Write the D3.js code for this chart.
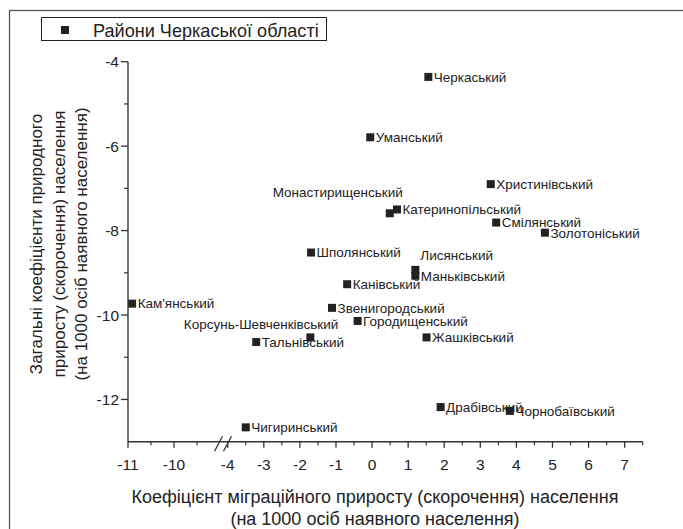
<!DOCTYPE html>
<html>
<head>
<meta charset="utf-8">
<script src="https://cdn.jsdelivr.net/npm/d3@7"></script>
<style>
  html, body { margin: 0; padding: 0; background: #fff; }
  svg { display: block; font-family: "Liberation Sans", Arial, sans-serif; }
</style>
</head>
<body>
<svg id="chart" width="683" height="529"></svg>
<script>
// ---- data ----
const districts = [
  "Черкаський", "Уманський", "Христинівський", "Монастирищенський",
  "Катеринопільський", "Смілянський", "Золотоніський", "Шполянський",
  "Лисянський", "Маньківський", "Канівський", "Кам'янський",
  "Звенигородський", "Городищенський", "Корсунь-Шевченківський",
  "Тальнівський", "Жашківський", "Драбівський", "Чорнобаївський", "Чигиринський"
];
const migration = [
  1.56, -0.05, 3.29, 0.49,
  0.69, 3.44, 4.79, -1.69,
  1.20, 1.20, -0.69, -10.91,
  -1.11, -0.40, -1.71,
  -3.21, 1.51, 1.90, 3.82, -3.50
];
const natural = [
  -4.36, -5.79, -6.90, -7.59,
  -7.50, -7.81, -8.05, -8.52,
  -8.93, -9.07, -9.27, -9.73,
  -9.83, -10.14, -10.53,
  -10.64, -10.53, -12.18, -12.27, -12.66
];
const xTickValues = [-11, -10, -4, -3, -2, -1, 0, 1, 2, 3, 4, 5, 6, 7];
const xMinorValues = [-10.5, -9.5, -3.5, -2.5, -1.5, -0.5, 0.5, 1.5, 2.5, 3.5, 4.5, 5.5, 6.5, 7.5];
const yTickValues = [-4, -6, -8, -10, -12];
const yMinorValues = [-5, -7, -9, -11];
const legendLabel = "Райони Черкаської області";
const xTitle = ["Коефіцієнт міграційного приросту (скорочення) населення", "(на 1000 осіб наявного населення)"];
const yTitle = ["Загальні коефіцієнти природного", "приросту (скорочення) населення", "(на 1000 осіб наявного населення)"];

// ---- drawing ----
const svg = d3.select("#chart");
const ink = "#222";

// outer frame (extends beyond the picture on right & bottom)
svg.append("rect").attr("x", 9.5).attr("y", 10.5).attr("width", 720).attr("height", 600)
  .attr("fill", "none").attr("stroke", "#555").attr("stroke-width", 1.3);

// broken x scale
const x = d3.scaleLinear()
  .domain([-11, -9.1, -4.15, 7.5])
  .range([128, 215.4, 222.3, 642.7]);
const y = d3.scaleLinear().domain([-13, -4]).range([441.7, 61.7]);

const axisColor = "#333";
// X axis
const xAxisG = svg.append("g").attr("transform", `translate(0,${y(-13)})`);
xAxisG.append("line").attr("x1", x(-11)).attr("x2", x(7.5))
  .attr("stroke", axisColor).attr("stroke-width", 1.4);
xAxisG.selectAll(".xmaj").data(xTickValues).enter().append("line")
  .attr("x1", d => x(d)).attr("x2", d => x(d)).attr("y1", 0).attr("y2", 6)
  .attr("stroke", axisColor).attr("stroke-width", 1.3);
xAxisG.selectAll(".xmin").data(xMinorValues).enter().append("line")
  .attr("x1", d => x(d)).attr("x2", d => x(d)).attr("y1", 0).attr("y2", 3.5)
  .attr("stroke", axisColor).attr("stroke-width", 1.2);
xAxisG.selectAll(".xlab").data(xTickValues).enter().append("text")
  .attr("x", d => x(d)).attr("y", 28).attr("text-anchor", "middle")
  .attr("font-size", 15.5).attr("fill", ink).text(d => d);
// break marks
[0, 9].forEach(dx => {
  xAxisG.append("line")
    .attr("x1", 214.5 + dx).attr("y1", 9.5).attr("x2", 222.5 + dx).attr("y2", -5.5)
    .attr("stroke", axisColor).attr("stroke-width", 1.3);
});

// Y axis
const yAxisG = svg.append("g").attr("transform", `translate(${x(-11)},0)`);
yAxisG.append("line").attr("y1", y(-4)).attr("y2", y(-13))
  .attr("stroke", axisColor).attr("stroke-width", 1.4);
yAxisG.selectAll(".ymaj").data(yTickValues).enter().append("line")
  .attr("y1", d => y(d)).attr("y2", d => y(d)).attr("x1", 0).attr("x2", -7)
  .attr("stroke", axisColor).attr("stroke-width", 1.3);
yAxisG.selectAll(".ymin").data(yMinorValues).enter().append("line")
  .attr("y1", d => y(d)).attr("y2", d => y(d)).attr("x1", 0).attr("x2", -4)
  .attr("stroke", axisColor).attr("stroke-width", 1.2);
yAxisG.selectAll(".ylab").data(yTickValues).enter().append("text")
  .attr("x", -9).attr("y", d => y(d)).attr("dy", "0.36em").attr("text-anchor", "end")
  .attr("font-size", 15.5).attr("fill", ink).text(d => d);

// axis titles
svg.append("g").selectAll("text").data(xTitle).enter().append("text")
  .attr("x", 375).attr("y", (d, i) => 502.5 + i * 22).attr("text-anchor", "middle")
  .attr("font-size", 18).attr("fill", ink).text(d => d);
svg.append("g").selectAll("text").data(yTitle).enter().append("text")
  .attr("transform", (d, i) => `translate(${42 + i * 22.5},244) rotate(-90)`)
  .attr("text-anchor", "middle").attr("font-size", 17).attr("fill", ink).text(d => d);

// legend
svg.append("rect").attr("x", 41.5).attr("y", 17.5).attr("width", 285).attr("height", 23)
  .attr("fill", "#fff").attr("stroke", "#222").attr("stroke-width", 1);
svg.append("rect").attr("x", 61).attr("y", 26).attr("width", 8).attr("height", 8).attr("fill", ink);
svg.append("text").attr("x", 93).attr("y", 30).attr("dy", "0.36em")
  .attr("font-size", 18.1).attr("fill", ink).text(legendLabel);

// points
const pts = districts.map((n, i) => ({ name: n, mx: migration[i], ny: natural[i] }));
svg.append("g").selectAll("rect").data(pts).enter().append("rect")
  .attr("x", d => x(d.mx) - 4).attr("y", d => y(d.ny) - 4)
  .attr("width", 8).attr("height", 8).attr("fill", ink);

// labels: default to the right of the marker; a few are moved
const labelShift = {
  "Монастирищенський": { dx: 13, dy: -21, anchor: "end" },
  "Лисянський": { dx: 5, dy: -15, anchor: "start" },
  "Корсунь-Шевченківський": { dx: 28, dy: -13, anchor: "end" }
};
svg.append("g").selectAll("text").data(pts).enter().append("text")
  .attr("x", d => x(d.mx) + (labelShift[d.name] ? labelShift[d.name].dx : 5.5))
  .attr("y", d => y(d.ny) + (labelShift[d.name] ? labelShift[d.name].dy : 0))
  .attr("dy", "0.36em")
  .attr("text-anchor", d => labelShift[d.name] ? labelShift[d.name].anchor : "start")
  .attr("font-size", 13.5).attr("fill", ink).text(d => d.name);
</script>
</body>
</html>
